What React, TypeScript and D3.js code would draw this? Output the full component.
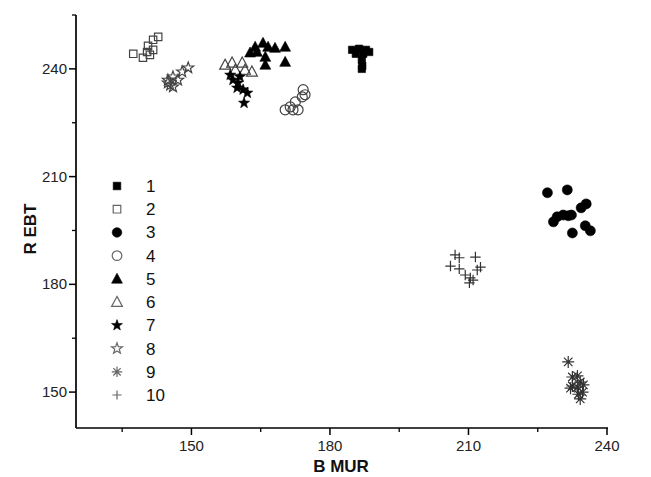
import React from "react";
import * as d3 from "d3";

const seriesNames = ["1", "2", "3", "4", "5", "6", "7", "8", "9", "10"];

const s1x = [184.8, 186.3, 187.8, 188.5, 185.6, 187.2, 186.9, 187.0, 186.9];
const s1y = [245.3, 245.6, 245.3, 244.7, 244.2, 244.2, 242.5, 240.8, 240.0];
const s2x = [142.8, 141.7, 140.6, 141.7, 140.4, 137.4, 139.5, 141.0];
const s2y = [248.9, 248.1, 246.4, 245.3, 244.7, 244.2, 243.1, 243.9];
const s3x = [227.1, 231.4, 235.5, 234.4, 229.2, 230.5, 232.3, 228.4, 232.5, 235.3, 236.4, 231.6];
const s3y = [205.5, 206.3, 202.4, 201.3, 198.8, 199.3, 199.3, 197.4, 194.3, 196.3, 194.9, 199.1];
const s4x = [174.2, 174.0, 172.5, 171.4, 170.3, 173.1, 172.0, 174.6];
const s4y = [234.2, 232.2, 230.8, 229.4, 228.6, 228.6, 228.6, 232.8];
const s5x = [163.8, 165.5, 166.6, 168.1, 170.3, 162.7, 166.0, 166.0, 170.3, 164.2];
const s5y = [246.1, 247.2, 246.1, 245.8, 246.1, 244.5, 243.3, 241.1, 241.9, 244.7];
const s6x = [157.3, 158.8, 161.0, 163.1, 159.5, 161.6];
const s6y = [241.1, 241.7, 241.7, 239.2, 239.7, 239.7];
const s7x = [158.4, 159.0, 160.1, 159.9, 161.2, 162.1, 161.4, 160.5];
const s7y = [238.3, 236.9, 236.1, 234.7, 234.2, 233.3, 230.5, 237.8];
const s8x = [149.3, 148.0, 146.0, 144.9, 147.1, 145.4, 146.0, 144.9];
const s8y = [240.3, 239.2, 237.8, 236.9, 236.9, 235.5, 235.0, 236.1];
const s9x = [231.6, 232.5, 233.6, 234.2, 232.5, 233.6, 234.7, 234.2, 233.8, 234.9, 232.1];
const s9y = [158.4, 154.2, 154.5, 152.8, 151.7, 151.4, 150.0, 148.1, 149.4, 152.0, 151.1];
const s10x = [207.1, 208.0, 206.1, 208.0, 211.5, 212.6, 211.9, 209.3, 210.4, 211.0, 210.2];
const s10y = [188.2, 187.4, 185.1, 184.3, 187.6, 184.8, 184.0, 182.6, 181.8, 181.2, 180.4];

const seriesX = [s1x, s2x, s3x, s4x, s5x, s6x, s7x, s8x, s9x, s10x];
const seriesY = [s1y, s2y, s3y, s4y, s5y, s6y, s7y, s8y, s9y, s10y];

const xMajor = [150, 180, 210, 240];
const xMinor = [135, 165, 195, 225];
const yMajor = [150, 180, 210, 240];
const yMinor = [165, 195, 225, 255];

type Kind = "square" | "circle" | "triangle" | "star" | "asterisk" | "plus";
const kinds: Kind[] = ["square", "square", "circle", "circle", "triangle", "triangle", "star", "star", "asterisk", "plus"];
const filled = [true, false, true, false, true, false, true, false, false, false];

function shapePath(kind: Kind, r: number): string {
  const p = d3.path();
  if (kind === "square") {
    p.rect(-r, -r, 2 * r, 2 * r);
  } else if (kind === "circle") {
    p.arc(0, 0, r, 0, Math.PI * 2);
    p.closePath();
  } else if (kind === "triangle") {
    const h = r * 1.1;
    p.moveTo(0, -h);
    p.lineTo(h * 0.95, h * 0.75);
    p.lineTo(-h * 0.95, h * 0.75);
    p.closePath();
  } else if (kind === "star") {
    for (let i = 0; i < 10; i++) {
      const a = -Math.PI / 2 + (i * Math.PI) / 5;
      const rr = i % 2 === 0 ? r * 1.1 : r * 0.45;
      const x = rr * Math.cos(a);
      const y = rr * Math.sin(a);
      if (i === 0) p.moveTo(x, y);
      else p.lineTo(x, y);
    }
    p.closePath();
  } else if (kind === "asterisk") {
    for (let i = 0; i < 4; i++) {
      const a = (i * Math.PI) / 4;
      p.moveTo(-r * Math.cos(a), -r * Math.sin(a));
      p.lineTo(r * Math.cos(a), r * Math.sin(a));
    }
  } else {
    p.moveTo(-r, 0);
    p.lineTo(r, 0);
    p.moveTo(0, -r);
    p.lineTo(0, r);
  }
  return p.toString();
}

const plotR: Record<Kind, number> = { square: 3.7, circle: 5, triangle: 5.2, star: 5.3, asterisk: 6, plus: 5.2 };
const legendR: Record<Kind, number> = { square: 3.8, circle: 4.8, triangle: 5.2, star: 5.2, asterisk: 5.2, plus: 4.6 };

function styleFor(i: number) {
  const k = kinds[i];
  if (filled[i]) return { fill: "#000", stroke: "#000", strokeWidth: 0.6 };
  if (k === "asterisk" || k === "plus") return { fill: "none", stroke: "#333", strokeWidth: 1.2 };
  return { fill: "none", stroke: "#444", strokeWidth: 1.2 };
}

export default function App() {
  const W = 651;
  const H = 477;
  const x = d3.scaleLinear().domain([125, 240]).range([76, 607]);
  const y = d3.scaleLinear().domain([140, 255]).range([428, 15]);
  const font = "Liberation Sans, Arial, sans-serif";

  const legendY = d3.scaleLinear().domain([0, 9]).range([186, 395]);

  return (
    <svg width={W} height={H} style={{ position: "absolute", left: 0, top: 0, background: "#fff" }}>
      <rect x={0} y={0} width={W} height={H} fill="#fff" />
      <line x1={x(125)} x2={x(240) + 1} y1={y(140)} y2={y(140)} stroke="#000" strokeWidth={1.7} />
      <line x1={x(125)} x2={x(125)} y1={y(140)} y2={y(255)} stroke="#000" strokeWidth={1.7} />
      {xMajor.map((v) => (
        <g key={"xM" + v}>
          <line x1={x(v)} x2={x(v)} y1={y(140)} y2={y(140) + 7} stroke="#000" strokeWidth={1.5} />
          <text x={x(v)} y={y(140) + 23} textAnchor="middle" fontSize={15} fontFamily={font} fill="#222">
            {v}
          </text>
        </g>
      ))}
      {xMinor.map((v) => (
        <line key={"xm" + v} x1={x(v)} x2={x(v)} y1={y(140)} y2={y(140) + 4} stroke="#000" strokeWidth={1.3} />
      ))}
      {yMajor.map((v) => (
        <g key={"yM" + v}>
          <line x1={x(125) - 7} x2={x(125)} y1={y(v)} y2={y(v)} stroke="#000" strokeWidth={1.5} />
          <text x={x(125) - 9} y={y(v) + 5} textAnchor="end" fontSize={15} fontFamily={font} fill="#222">
            {v}
          </text>
        </g>
      ))}
      {yMinor.map((v) => (
        <line key={"ym" + v} x1={x(125) - 4} x2={x(125)} y1={y(v)} y2={y(v)} stroke="#000" strokeWidth={1.3} />
      ))}
      <text x={341} y={472} textAnchor="middle" fontSize={17} fontWeight="bold" fontFamily={font} fill="#111">
        B MUR
      </text>
      <text
        transform={`translate(36,${229}) rotate(-90)`}
        textAnchor="middle"
        fontSize={17}
        fontWeight="bold"
        fontFamily={font}
        fill="#111"
      >
        R EBT
      </text>
      {seriesNames.map((name, i) => {
        const st = styleFor(i);
        const d = shapePath(kinds[i], plotR[kinds[i]]);
        return (
          <g key={"s" + name}>
            {seriesX[i].map((xv, j) => (
              <path
                key={j}
                d={d}
                transform={`translate(${x(xv)},${y(seriesY[i][j])})`}
                fill={st.fill}
                stroke={st.stroke}
                strokeWidth={st.strokeWidth}
              />
            ))}
          </g>
        );
      })}
      {seriesNames.map((name, i) => {
        const st = styleFor(i);
        const ly = legendY(i);
        return (
          <g key={"l" + name}>
            <path
              d={shapePath(kinds[i], legendR[kinds[i]])}
              transform={`translate(117,${ly})`}
              fill={st.fill}
              stroke={filled[i] ? st.stroke : "#666"}
              strokeWidth={st.strokeWidth}
            />
            <text x={146} y={ly + 6} fontSize={17} fontFamily={font} fill="#111">
              {name}
            </text>
          </g>
        );
      })}
    </svg>
  );
}
